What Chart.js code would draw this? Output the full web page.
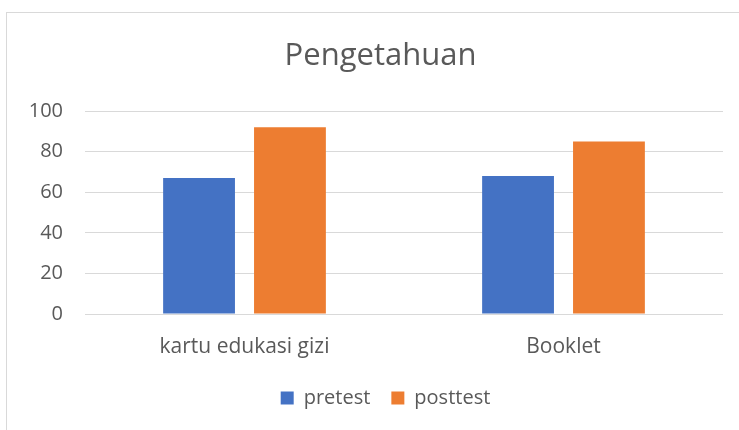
<!DOCTYPE html>
<html><head><meta charset="utf-8">
<script src="https://cdn.jsdelivr.net/npm/chart.js@4"></script>
<style>html,body{margin:0;padding:0;background:#fff;overflow:hidden}#wrap{position:absolute;left:0;top:0;width:739px;height:430px}</style>
</head><body><div id="wrap"><canvas id="c"></canvas></div>
<script>
const categories = ['kartu edukasi gizi', 'Booklet'];
const seriesNames = ['pretest', 'posttest'];
const pretest = [67, 68];
const posttest = [92, 85];
const yTicks = [0, 20, 40, 60, 80, 100];
const chartTitle = 'Pengetahuan';

const TEXT = '#595959';
const GRID = '#d9d9d9';
const FONT = "'Open Sans', sans-serif";

const framePlugin = {
  id: 'frame',
  beforeDraw(chart) {
    const ctx = chart.ctx;
    ctx.save();
    ctx.fillStyle = '#fff';
    ctx.fillRect(0, 0, chart.width, chart.height);
    ctx.strokeStyle = GRID;
    ctx.lineWidth = 1;
    ctx.strokeRect(6.5, 12.5, chart.width + 20, chart.height + 20);
    ctx.restore();
  },
  afterLayout(chart) {
    // centre title and legend on the framed chart box, as in the original
    if (chart.titleBlock) chart.titleBlock.left = 38;
    if (chart.legend) chart.legend.left = 48;
  }
};

new Chart(document.getElementById('c'), {
  type: 'bar',
  data: {
    labels: categories,
    datasets: [
      { label: seriesNames[0], data: pretest, backgroundColor: '#4472C4', categoryPercentage: 0.57, barPercentage: 0.79 },
      { label: seriesNames[1], data: posttest, backgroundColor: '#ED7D31', categoryPercentage: 0.57, barPercentage: 0.79 }
    ]
  },
  options: {
    responsive: true,
    maintainAspectRatio: false,
    animation: false,
    layout: { padding: { left: 0, right: 16, top: 0, bottom: 12 } },
    plugins: {
      title: {
        display: true, text: chartTitle, color: TEXT,
        font: { family: FONT, size: 31, weight: 'normal' },
        padding: { top: 37.4, bottom: 36.4 }
      },
      legend: {
        position: 'bottom',
        labels: { boxWidth: 13, boxHeight: 13, padding: 21, color: TEXT, font: { family: FONT, size: 20 } }
      },
      tooltip: { enabled: false }
    },
    scales: {
      x: {
        grid: { display: false, drawTicks: false },
        border: { display: false },
        ticks: { color: TEXT, font: { family: FONT, size: 21 }, padding: 20 },
        afterFit(s) { s.height = 53; }
      },
      y: {
        min: 0, max: 100,
        afterBuildTicks(s) { s.ticks = yTicks.map(v => ({ value: v })); },
        grid: { color: GRID, drawTicks: false, lineWidth: 1 },
        border: { display: false },
        ticks: { color: TEXT, font: { family: FONT, size: 20 }, padding: 22 },
        afterFit(s) { s.width = 85; }
      }
    }
  },
  plugins: [framePlugin]
});
</script></body></html>
